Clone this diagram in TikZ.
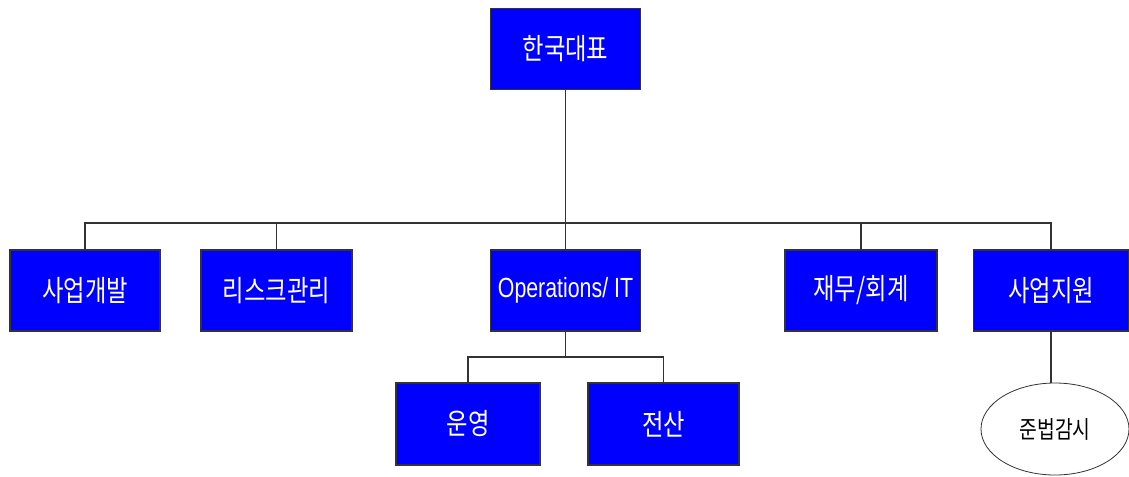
\documentclass[tikz,border=0pt]{standalone}
\usepackage{graphicx}
\usepackage{fontspec}
\setmainfont{Liberation Sans}
\newfontfamily\kr{Noto Sans CJK KR}
\usetikzlibrary{shapes.geometric}
\definecolor{boxblue}{HTML}{0000FF}
\definecolor{linegray}{HTML}{333333}
\newcommand{\stretchtxt}[1]{\scalebox{1}[1.3]{#1}}
\newcommand{\krtxt}[1]{\scalebox{1}[1.25]{\kr\fontsize{17.5pt}{20pt}\selectfont #1}}
\tikzset{
  orgbox/.style={draw=linegray, line width=0.8pt, fill=boxblue, text=white,
    minimum width=150*0.75pt, minimum height=81*0.75pt, inner sep=0pt,
    font=\fontsize{16pt}{18pt}\selectfont},
  orgoval/.style={ellipse, draw=linegray, line width=0.6pt, fill=white, text=black,
    minimum width=148*0.75pt, minimum height=92*0.75pt, inner sep=0pt},
  conn/.style={draw=linegray, line width=0.8pt}
}
\begin{document}
\begin{tikzpicture}[x=0.75pt, y=-0.75pt]
\useasboundingbox (0,0) rectangle (1129,476);
% nodes
\node[orgbox] (top) at (565.5,49) {\krtxt{한국대표}};
\node[orgbox] (sb) at (85,290.5) {\krtxt{사업개발}};
\node[orgbox, minimum width=151*0.75pt] (risk) at (276.5,290.5) {\krtxt{리스크관리}};
\node[orgbox] (ops) at (565.5,290.5) {\stretchtxt{Operations/ IT}};
\node[orgbox, minimum width=152*0.75pt] (fin) at (861,290.5) {\krtxt{재무/회계}};
\node[orgbox, minimum width=155*0.75pt] (sup) at (1051,290.5) {\krtxt{사업지원}};
\node[orgbox, minimum width=144*0.75pt, minimum height=82*0.75pt] (op) at (468,424) {\krtxt{운영}};
\node[orgbox, minimum width=151*0.75pt, minimum height=82*0.75pt] (it) at (663.5,424) {\krtxt{전산}};
\node[orgoval] (comp) at (1055,429) {\scalebox{1}[1.25]{\kr\fontsize{14.5pt}{17pt}\selectfont 준법감시}};
% connectors
\coordinate (bus) at (565.5,223);
\coordinate (bus2) at (565.5,357);
\draw[conn] (top.south) -- (bus);
\draw[conn] (sb.north) |- (bus);
\draw[conn] (risk.north) |- (bus);
\draw[conn] (ops.north) -- (bus);
\draw[conn] (fin.north) |- (bus);
\draw[conn] (sup.north) |- (bus);
\draw[conn] (ops.south) -- (bus2);
\draw[conn] (op.north) |- (bus2);
\draw[conn] (it.north) |- (bus2);
\draw[conn] (sup.south) -- (sup.south |- comp.north);
\end{tikzpicture}
\end{document}
